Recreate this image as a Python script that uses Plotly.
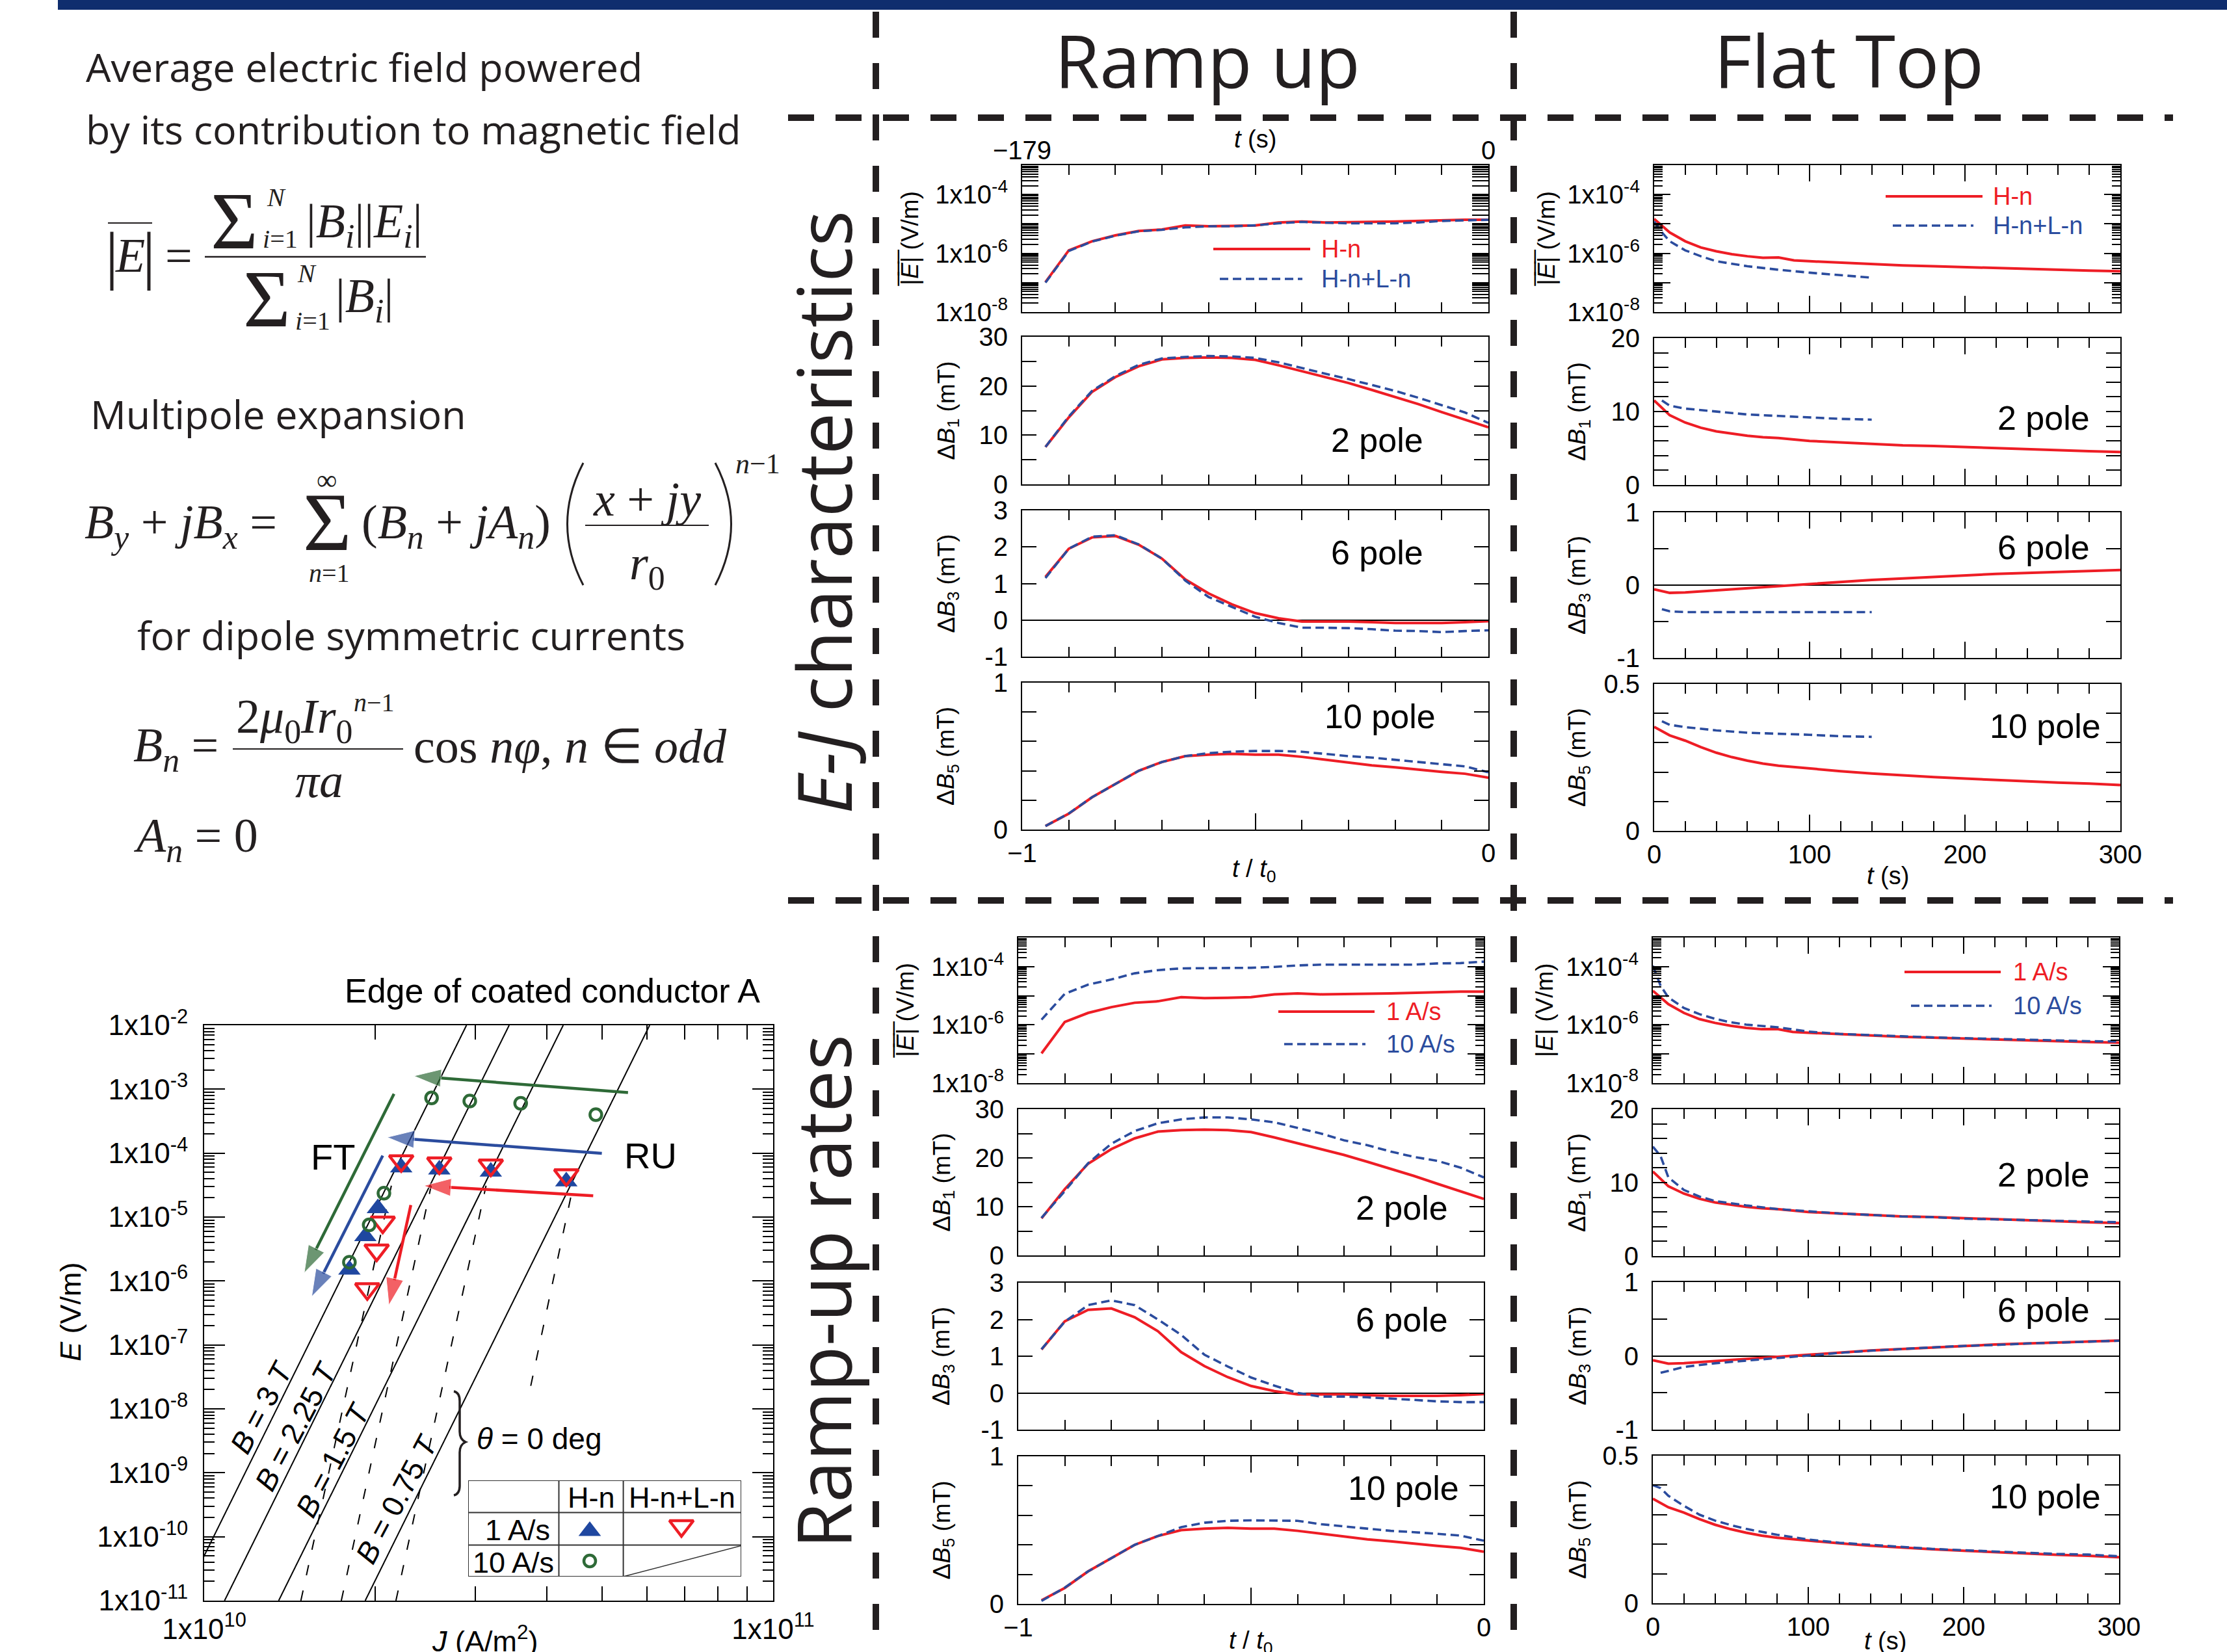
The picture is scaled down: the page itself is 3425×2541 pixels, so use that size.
import plotly.graph_objects as go

W, H = 3425, 2541
SANS = "Open Sans, Noto Sans, sans-serif"
ARIAL = "Liberation Sans, Arial, sans-serif"
SERIF = "Liberation Serif, Times New Roman, serif"
INK = "#231F20"
RED = "#EE1D25"
BLUE = "#2B4C9E"
GREEN = "#2E6A37"
TRI_BLUE = "#1F47A0"
NAVY = "#0F2D6E"

# ---------------- data: ramp up (t / t0) ----------------
ramp_t = [-0.95, -0.90, -0.85, -0.80, -0.75, -0.70, -0.65, -0.60, -0.55, -0.50,
          -0.45, -0.40, -0.35, -0.30, -0.25, -0.20, -0.15, -0.10, -0.05, 0.00]
ramp_E_hn = [1.05e-7, 1.26e-6, 2.57e-6, 4.07e-6, 5.75e-6, 6.46e-6, 8.91e-6, 8.32e-6, 8.51e-6, 8.91e-6,
             1.12e-5, 1.20e-5, 1.12e-5, 1.12e-5, 1.17e-5, 1.20e-5, 1.26e-5, 1.38e-5, 1.38e-5, 1.38e-5]
ramp_E_hnln = [1.0e-7, 1.2e-6, 2.51e-6, 3.98e-6, 5.62e-6, 6.31e-6, 7.59e-6, 8.32e-6, 8.32e-6, 8.91e-6,
               1.05e-5, 1.17e-5, 1.10e-5, 1.05e-5, 1.05e-5, 1.05e-5, 1.12e-5, 1.26e-5, 1.32e-5, 1.38e-5]
ramp_E_10 = [1.51e-6, 1.17e-5, 2.40e-5, 3.63e-5, 5.89e-5, 7.59e-5, 8.71e-5, 8.71e-5, 8.71e-5, 9.12e-5,
             9.77e-5, 1.10e-4, 1.17e-4, 1.17e-4, 1.17e-4, 1.17e-4, 1.17e-4, 1.29e-4, 1.32e-4, 1.48e-4]
ramp_B1_hn = [7.6, 13.6, 18.8, 21.8, 24.0, 25.4, 25.7, 25.8, 25.7, 25.3,
              24.2, 23.0, 21.8, 20.6, 19.2, 17.8, 16.3, 14.7, 13.2, 11.6]
ramp_B1_hnln = [7.6, 13.8, 19.0, 22.0, 24.3, 25.6, 25.9, 26.1, 26.0, 25.7,
                24.8, 23.6, 22.5, 21.4, 20.2, 19.0, 17.6, 16.1, 14.6, 12.5]
ramp_B1_10 = [7.7, 13.2, 18.9, 22.9, 25.5, 27.1, 27.9, 28.3, 28.3, 27.9,
              27.3, 26.1, 25.0, 23.6, 22.6, 21.3, 20.2, 19.4, 18.0, 16.0]
ramp_B3_hn = [1.18, 1.95, 2.26, 2.30, 2.06, 1.68, 1.11, 0.73, 0.43, 0.19,
              0.05, -0.04, -0.04, -0.04, -0.06, -0.08, -0.08, -0.08, -0.06, -0.03]
ramp_B3_hnln = [1.15, 1.95, 2.28, 2.32, 2.07, 1.68, 1.08, 0.63, 0.36, 0.09,
                -0.08, -0.21, -0.21, -0.22, -0.25, -0.29, -0.30, -0.33, -0.30, -0.28]
ramp_B3_10 = [1.19, 1.94, 2.39, 2.52, 2.39, 2.00, 1.58, 1.04, 0.72, 0.42,
              0.20, 0.00, -0.10, -0.10, -0.12, -0.15, -0.19, -0.23, -0.25, -0.25]
ramp_B5_hn = [0.024, 0.108, 0.22, 0.31, 0.40, 0.46, 0.50, 0.51, 0.515, 0.51,
              0.51, 0.495, 0.475, 0.454, 0.437, 0.424, 0.407, 0.393, 0.38, 0.353]
ramp_B5_hnln = [0.024, 0.11, 0.22, 0.31, 0.40, 0.46, 0.50, 0.52, 0.53, 0.535,
                0.535, 0.53, 0.515, 0.50, 0.49, 0.475, 0.46, 0.445, 0.43, 0.39]
ramp_B5_10 = [0.02, 0.11, 0.22, 0.31, 0.40, 0.46, 0.52, 0.55, 0.563, 0.566,
              0.566, 0.563, 0.54, 0.524, 0.508, 0.495, 0.486, 0.476, 0.463, 0.428]

# ---------------- data: flat top (t in s) ----------------
flat_t_hn = [0, 10, 20, 30, 40, 50, 60, 70, 80, 90, 100, 120, 140, 160, 180, 200, 220, 240, 260, 280, 300]
flat_E_hn = [1.48e-5, 5.13e-6, 2.57e-6, 1.58e-6, 1.17e-6, 9.33e-7, 7.94e-7, 7.08e-7, 7.24e-7, 5.75e-7, 5.37e-7,
             4.79e-7, 4.27e-7, 3.89e-7, 3.63e-7, 3.39e-7, 3.09e-7, 2.88e-7, 2.63e-7, 2.57e-7, 2.45e-7]
flat_B1_hn = [11.5, 9.5, 8.5, 7.8, 7.3, 7.0, 6.7, 6.5, 6.4, 6.2, 6.0, 5.8, 5.6, 5.4, 5.3, 5.15, 5.0, 4.9, 4.75, 4.6, 4.5]
flat_B3_hn = [-0.058, -0.106, -0.10, -0.085, -0.07, -0.057, -0.044, -0.03, -0.017, 0.0, 0.017,
              0.044, 0.072, 0.092, 0.113, 0.133, 0.154, 0.167, 0.18, 0.195, 0.208]
flat_B5_hn = [0.354, 0.325, 0.307, 0.285, 0.266, 0.251, 0.239, 0.229, 0.222, 0.217, 0.212,
              0.203, 0.195, 0.188, 0.183, 0.178, 0.173, 0.169, 0.164, 0.161, 0.156]

flat_t_hnln_E = [0, 5, 10, 20, 30, 40, 60, 80, 100, 120, 140]
flat_E_hnln = [1.20e-5, 5.13e-6, 2.57e-6, 1.26e-6, 7.94e-7, 5.37e-7, 3.63e-7, 2.75e-7, 2.19e-7, 1.78e-7, 1.48e-7]
flat_t_hnln_B = [5, 10, 20, 30, 40, 60, 80, 100, 120, 140]
flat_B1_hnln = [11.5, 10.8, 10.4, 10.2, 10.0, 9.6, 9.4, 9.2, 9.0, 8.9]
flat_B3_hnln = [-0.33, -0.36, -0.37, -0.37, -0.37, -0.37, -0.37, -0.37, -0.37, -0.37]
flat_B5_hnln = [0.373, 0.361, 0.353, 0.347, 0.342, 0.334, 0.331, 0.327, 0.322, 0.320]

flat_t_10 = [0, 5, 10, 20, 30, 40, 50, 60, 80, 100, 120, 140, 160, 180, 200, 220, 240, 260, 280, 300]
flat_E_10 = [1.07e-4, 2.19e-5, 8.71e-6, 3.80e-6, 2.34e-6, 1.62e-6, 1.23e-6, 1.02e-6, 8.32e-7, 5.89e-7,
             4.90e-7, 4.37e-7, 4.07e-7, 3.72e-7, 3.47e-7, 3.24e-7, 3.02e-7, 2.88e-7, 2.75e-7, 2.69e-7]
flat_B1_10 = [14.9, 13.6, 10.7, 9.0, 8.1, 7.5, 7.2, 6.9, 6.4, 6.1, 5.8, 5.6, 5.4, 5.3, 5.1, 5.0, 4.9, 4.75, 4.7, 4.6]
flat_t_10_B3 = [5, 20, 40, 60, 80, 100, 120, 140, 160, 180, 200, 220, 240, 260, 280, 300]
flat_B3_10 = [-0.23, -0.15, -0.10, -0.064, -0.026, 0.006, 0.04, 0.07, 0.096, 0.115, 0.135, 0.147, 0.167, 0.18, 0.19, 0.205]
flat_B5_10 = [0.40, 0.39, 0.364, 0.33, 0.30, 0.28, 0.265, 0.252, 0.232, 0.216, 0.205, 0.197, 0.191, 0.184,
              0.179, 0.175, 0.171, 0.167, 0.165, 0.159]

# ---------------- data: E-J characteristics ----------------
ej_J_hn1 = [2.22e10, 2.59e10, 3.19e10, 4.33e10, 2.02e10, 1.92e10, 1.80e10]
ej_E_hn1 = [5.97e-5, 5.53e-5, 5.12e-5, 3.61e-5, 1.37e-5, 5.0e-6, 1.50e-6]
ej_J_hnln1 = [2.22e10, 2.59e10, 3.19e10, 4.33e10, 2.06e10, 2.01e10, 1.935e10]
ej_E_hnln1 = [7.55e-5, 6.98e-5, 6.46e-5, 4.55e-5, 8.28e-6, 3.03e-6, 7.5e-7]
ej_J_hn10 = [2.51e10, 2.93e10, 3.60e10, 4.88e10, 2.07e10, 1.95e10, 1.80e10]
ej_E_hn10 = [7.31e-4, 6.52e-4, 6.03e-4, 3.99e-4, 2.36e-5, 7.55e-6, 1.97e-6]

ej_B_labels = ["3", "2.25", "1.5", "0.75"]
ej_line_J_lo = [9.14e9, 1.086e10, 1.352e10, 1.919e10]
ej_line_J_hi = [2.891e10, 3.436e10, 4.276e10, 6.067e10]
ej_line_E = [1e-11, 1e-2]
ej_dash_J_lo = [1.479e10, 1.742e10, 2.173e10, 3.75e10]
ej_dash_J_hi = [2.133e10, 2.506e10, 3.129e10, 4.453e10]
ej_dash_E_lo = [1e-11, 1e-11, 1e-11, 2.29e-8]
ej_dash_E_hi = [3.09e-5, 3.09e-5, 3.09e-5, 3.09e-5]

arrow_colors = [GREEN, GREEN, BLUE, BLUE, RED, RED]
arrow_J0 = [5.559e10, 2.156e10, 5.0e10, 2.06e10, 4.828e10, 2.308e10]
arrow_E0 = [8.87e-4, 8.47e-4, 9.91e-5, 9.14e-5, 2.15e-5, 1.54e-5]
arrow_J1 = [2.336e10, 1.499e10, 2.097e10, 1.545e10, 2.432e10, 2.112e10]
arrow_E1 = [1.61e-3, 1.34e-6, 1.77e-4, 5.70e-7, 3.09e-5, 4.18e-7]

# ---------------- helpers ----------------
fig = go.Figure()
layout = {}
annotations = []
shapes = []


def px(x):
    return x / W


def py(y):
    return 1 - y / H


def ann(text, x, y, size, family=SANS, xanchor="center", yanchor="middle", angle=0,
        color=INK, xref="paper", yref="paper"):
    if xref == "paper":
        x = px(x)
    if yref == "paper":
        y = py(y)
    annotations.append(dict(text=text, x=x, y=y, xref=xref, yref=yref, xanchor=xanchor,
                            yanchor=yanchor, textangle=angle, showarrow=False,
                            font=dict(family=family, size=size, color=color)))


def seg(x0, y0, x1, y1, color=INK, width=2, dash="solid"):
    shapes.append(dict(type="line", xref="paper", yref="paper", x0=px(x0), y0=py(y0),
                       x1=px(x1), y1=py(y1), line=dict(color=color, width=width, dash=dash)))


def path(cmds, color=INK, width=3):
    s = ""
    for c, pts in cmds:
        s += c
        coords = []
        for i in range(0, len(pts), 2):
            coords.append(f"{px(pts[i]):.6f},{py(pts[i + 1]):.6f}")
        s += " ".join(coords) + " "
    shapes.append(dict(type="path", xref="paper", yref="paper", path=s.strip(),
                       line=dict(color=color, width=width)))


TICKFONT = dict(family=ARIAL, size=40, color="black")
AX_BASE = dict(showline=True, linecolor="black", linewidth=2, mirror="allticks", ticks="inside",
               tickcolor="black", tickwidth=2, showgrid=False, zeroline=False, automargin=False,
               tickfont=TICKFONT)
axn = [0]


def new_axes(xbox, ybox, xcfg, ycfg):
    axn[0] += 1
    n = axn[0]
    sfx = "" if n == 1 else str(n)
    xc = dict(AX_BASE)
    xc.update(xcfg)
    xc.update(domain=[xbox[0] / W, xbox[1] / W], anchor="y" + sfx)
    yc = dict(AX_BASE)
    yc.update(ycfg)
    yc.update(domain=[1 - ybox[1] / H, 1 - ybox[0] / H], anchor="x" + sfx)
    layout["xaxis" + sfx] = xc
    layout["yaxis" + sfx] = yc
    return "x" + sfx, "y" + sfx


def trace(xa, ya, x, y, kind):
    if kind == "red":
        line = dict(color=RED, width=4)
    else:
        line = dict(color=BLUE, width=3.6, dash="13px,7px")
    fig.add_trace(go.Scatter(x=x, y=y, xaxis=xa, yaxis=ya, mode="lines", line=line,
                             hoverinfo="skip", showlegend=False))


decades = [1e-8, 1e-7, 1e-6, 1e-5, 1e-4, 1e-3]
E_minor = [k * 10.0 ** e for e in range(-8, -3) for k in range(2, 10)]
MINOR = dict(ticks="inside", tickcolor="black", tickwidth=2)


def y_E():
    return dict(type="log", range=[-8, -3], tickvals=decades,
                ticktext=["1x10<sup>-8</sup>", "", "1x10<sup>-6</sup>", "", "1x10<sup>-4</sup>", ""],
                ticklen=25, minor=dict(tickvals=E_minor, ticklen=13, **MINOR), ticklabelstandoff=12)


def y_lin(rng, vals, texts, minor_dtick=None):
    d = dict(range=rng, tickvals=vals, ticktext=texts, ticklen=22, ticklabelstandoff=12)
    if minor_dtick:
        d["minor"] = dict(dtick=minor_dtick, ticklen=22, **MINOR)
    return d


def x_ramp(labels):
    return dict(range=[-1, 0], tickvals=[-1, -0.5, 0], ticktext=["\u22121", "", "0"],
                showticklabels=labels, ticklen=25, minor=dict(dtick=0.1, ticklen=15, **MINOR))


def x_flat(labels):
    return dict(range=[0, 300], tickvals=[0, 100, 200, 300], ticktext=["0", "100", "200", "300"],
                showticklabels=labels, ticklen=25, minor=dict(dtick=20, ticklen=15, **MINOR))


ramp_y = [y_E(),
          y_lin([0, 30], [0, 10, 20, 30], ["0", "10", "20", "30"], 5),
          dict(y_lin([-1, 3], [-1, 0, 1, 2, 3], ["-1", "0", "1", "2", "3"]),
               zeroline=True, zerolinecolor="black", zerolinewidth=1.5),
          y_lin([0, 1], [0, 0.2, 0.4, 0.6, 0.8, 1], ["0", "", "", "", "", "1"])]
flat_y = [y_E(),
          y_lin([0, 20], [0, 10, 20], ["0", "10", "20"], 2),
          dict(y_lin([-1, 1], [-1, 0, 1], ["-1", "0", "1"], 0.5),
               zeroline=True, zerolinecolor="black", zerolinewidth=1.5),
          y_lin([0, 0.5], [0, 0.1, 0.2, 0.3, 0.4, 0.5], ["0", "", "", "", "", "0.5"])]

# ---------------- panel geometry (px) ----------------
col_ramp_top = (1572, 2289)
col_flat_top = (2544, 3261)
col_ramp_bot = (1566, 2282)
col_flat_bot = (2542, 3259)
rows_ramp_top = [(254, 480), (518, 745), (785, 1010), (1050, 1276)]
rows_flat_top = [(254, 480), (520, 746), (788, 1012), (1052, 1278)]
rows_ramp_bot = [(1442, 1666), (1706, 1931), (1973, 2199), (2240, 2467)]
rows_flat_bot = [(1442, 1666), (1706, 1932), (1972, 2199), (2239, 2466)]

ramp_top_series = [(ramp_E_hn, ramp_E_hnln), (ramp_B1_hn, ramp_B1_hnln),
                   (ramp_B3_hn, ramp_B3_hnln), (ramp_B5_hn, ramp_B5_hnln)]
for i, (r, b) in enumerate(ramp_top_series):
    xa, ya = new_axes(col_ramp_top, rows_ramp_top[i], x_ramp(i == 3), ramp_y[i])
    trace(xa, ya, ramp_t, r, "red")
    trace(xa, ya, ramp_t, b, "blue")

flat_top_series = [(flat_t_hn, flat_E_hn, flat_t_hnln_E, flat_E_hnln),
                   (flat_t_hn, flat_B1_hn, flat_t_hnln_B, flat_B1_hnln),
                   (flat_t_hn, flat_B3_hn, flat_t_hnln_B, flat_B3_hnln),
                   (flat_t_hn, flat_B5_hn, flat_t_hnln_B, flat_B5_hnln)]
for i, (tr, r, tb, b) in enumerate(flat_top_series):
    xa, ya = new_axes(col_flat_top, rows_flat_top[i], x_flat(i == 3), flat_y[i])
    trace(xa, ya, tr, r, "red")
    trace(xa, ya, tb, b, "blue")

ramp_bot_series = [(ramp_E_hn, ramp_E_10), (ramp_B1_hn, ramp_B1_10),
                   (ramp_B3_hn, ramp_B3_10), (ramp_B5_hn, ramp_B5_10)]
for i, (r, b) in enumerate(ramp_bot_series):
    xa, ya = new_axes(col_ramp_bot, rows_ramp_bot[i], x_ramp(i == 3), ramp_y[i])
    trace(xa, ya, ramp_t, r, "red")
    trace(xa, ya, ramp_t, b, "blue")

flat_bot_series = [(flat_t_hn, flat_E_hn, flat_t_10, flat_E_10),
                   (flat_t_hn, flat_B1_hn, flat_t_10, flat_B1_10),
                   (flat_t_hn, flat_B3_hn, flat_t_10_B3, flat_B3_10),
                   (flat_t_hn, flat_B5_hn, flat_t_10, flat_B5_10)]
for i, (tr, r, tb, b) in enumerate(flat_bot_series):
    xa, ya = new_axes(col_flat_bot, rows_flat_bot[i], x_flat(i == 3), flat_y[i])
    trace(xa, ya, tr, r, "red")
    trace(xa, ya, tb, b, "blue")

# ---------------- E-J plot ----------------
EJ_TICKFONT = dict(family=ARIAL, size=44, color="black")
ej_x_ticks = [1e10, 2e10, 3e10, 4e10, 5e10, 6e10, 7e10, 8e10, 9e10, 1e11]
ej_y_ticks = [10.0 ** e for e in range(-11, -1)]
ej_y_minor = [k * 10.0 ** e for e in range(-11, -2) for k in range(2, 10)]
ej_x_cfg = dict(type="log", range=[10, 11], tickvals=ej_x_ticks,
                ticktext=["1x10<sup>10</sup>"] + [""] * 8 + ["1x10<sup>11</sup>"],
                ticklen=22, tickfont=EJ_TICKFONT, ticklabelstandoff=4)
ej_y_cfg = dict(type="log", range=[-11, -2], tickvals=ej_y_ticks,
                ticktext=[f"1x10<sup>{e}</sup>" for e in range(-11, -1)],
                ticklen=32, minor=dict(tickvals=ej_y_minor, ticklen=16, **MINOR),
                tickfont=EJ_TICKFONT, ticklabelstandoff=14)
ejx, ejy = new_axes((314, 1189), (1577, 2462), ej_x_cfg, ej_y_cfg)

for i in range(4):
    fig.add_trace(go.Scatter(x=[ej_line_J_lo[i], ej_line_J_hi[i]], y=ej_line_E, xaxis=ejx, yaxis=ejy,
                             mode="lines", line=dict(color="black", width=2), hoverinfo="skip",
                             showlegend=False))
    fig.add_trace(go.Scatter(x=[ej_dash_J_lo[i], ej_dash_J_hi[i]], y=[ej_dash_E_lo[i], ej_dash_E_hi[i]],
                             xaxis=ejx, yaxis=ejy, mode="lines",
                             line=dict(color="black", width=2, dash="16px,24px"), hoverinfo="skip",
                             showlegend=False))

for i in range(6):
    fig.add_trace(go.Scatter(x=[arrow_J0[i], arrow_J1[i]], y=[arrow_E0[i], arrow_E1[i]], xaxis=ejx, yaxis=ejy,
                             mode="lines+markers", line=dict(color=arrow_colors[i], width=4.5),
                             marker=dict(symbol="arrow", angleref="previous", size=[0, 44],
                                         color=arrow_colors[i]),
                             hoverinfo="skip", showlegend=False))

fig.add_trace(go.Scatter(x=ej_J_hn1, y=ej_E_hn1, xaxis=ejx, yaxis=ejy, mode="markers",
                         marker=dict(symbol="triangle-up", size=30, color=TRI_BLUE), hoverinfo="skip",
                         showlegend=False))
fig.add_trace(go.Scatter(x=ej_J_hnln1, y=ej_E_hnln1, xaxis=ejx, yaxis=ejy, mode="markers",
                         marker=dict(symbol="triangle-down-open", size=32, color=RED, line=dict(width=4.5)),
                         hoverinfo="skip", showlegend=False))
fig.add_trace(go.Scatter(x=ej_J_hn10, y=ej_E_hn10, xaxis=ejx, yaxis=ejy, mode="markers",
                         marker=dict(symbol="circle-open", size=18, color=GREEN, line=dict(width=4.5)),
                         hoverinfo="skip", showlegend=False))

# legend table axes (pixel units inside the table box)
tbx, tby = new_axes((720, 1140), (2277, 2425),
                    dict(range=[0, 420], showline=False, ticks="", showticklabels=False, mirror=False),
                    dict(range=[148, 0], showline=False, ticks="", showticklabels=False, mirror=False))
tb_cols = [0, 139.5, 238.6, 420]
tb_rows = [0, 49.6, 99.5, 148]
for xv in tb_cols:
    shapes.append(dict(type="line", xref=tbx, yref=tby, x0=xv, x1=xv, y0=0, y1=148,
                       line=dict(color="#333333", width=2)))
for yv in tb_rows:
    shapes.append(dict(type="line", xref=tbx, yref=tby, x0=0, x1=420, y0=yv, y1=yv,
                       line=dict(color="#333333", width=2)))
shapes.append(dict(type="line", xref=tbx, yref=tby, x0=238.6, x1=420, y0=148, y1=100.5,
                   line=dict(color="#333333", width=1.5)))
fig.add_trace(go.Scatter(x=[187], y=[78], xaxis=tbx, yaxis=tby, mode="markers",
                         marker=dict(symbol="triangle-up", size=30, color=TRI_BLUE), hoverinfo="skip",
                         showlegend=False))
fig.add_trace(go.Scatter(x=[328], y=[70], xaxis=tbx, yaxis=tby, mode="markers",
                         marker=dict(symbol="triangle-down-open", size=32, color=RED, line=dict(width=4.5)),
                         hoverinfo="skip", showlegend=False))
fig.add_trace(go.Scatter(x=[187], y=[124], xaxis=tbx, yaxis=tby, mode="markers",
                         marker=dict(symbol="circle-open", size=18, color=GREEN, line=dict(width=4.5)),
                         hoverinfo="skip", showlegend=False))
for text, xv, yv, xa_ in [("H-n", 189, 26, "center"), ("H-n+L-n", 329, 26, "center"),
                          ("1 A/s", 128, 76, "right"), ("10 A/s", 134, 126, "right")]:
    annotations.append(dict(text=text, x=xv, y=yv, xref=tbx, yref=tby, xanchor=xa_, yanchor="middle",
                            showarrow=False, font=dict(family=ARIAL, size=45, color="black")))

# top time axis on ramp-up E panel
layout["xaxis40"] = dict(overlaying="x", side="top", anchor="y", range=[-179, 0], tickvals=[-179, 0],
                         ticktext=["\u2212179", "0"], showline=False, ticks="", showgrid=False,
                         zeroline=False, automargin=False, tickfont=TICKFONT, ticklabelstandoff=0)
fig.add_trace(go.Scatter(x=[-179, 0], y=[1e-8, 1e-8], xaxis="x40", yaxis="y", mode="markers",
                         marker=dict(opacity=0, size=1), hoverinfo="skip", showlegend=False))

# ---------------- decoration: bars & separators ----------------
shapes.append(dict(type="rect", xref="paper", yref="paper", x0=px(89), x1=1, y0=py(15), y1=1,
                   fillcolor=NAVY, line=dict(width=0)))
seg(1347, 18, 1347, 2541, INK, 10, "40px,39px")
seg(2328, 18, 2328, 2541, INK, 10, "40px,39px")
seg(1212, 181, 3342, 181, INK, 10, "40px,33px")
seg(1212, 1385, 3342, 1385, INK, 10, "40px,33px")

ann("Ramp up", 1857, 92, 112)
ann("Flat Top", 2843, 92, 112)
ann("<i>E-J</i> characteristics", 1265, 788, 115, angle=-90)
ann("Ramp-up rates", 1265, 1987, 115, angle=-90)

# ---------------- left text & equations ----------------
ann("Average electric field powered", 130, 103, 61, xanchor="left")
ann("by its contribution to magnetic field", 130, 198, 61, xanchor="left")
ann("Multipole expansion", 137, 636, 61, xanchor="left")
ann("for dipole symmetric currents", 209, 976, 61, xanchor="left")

# |E| = sum|B||E| / sum|B|
ann("|", 172, 392, 100, SERIF)
ann("<i>E</i>", 200, 393, 74, SERIF)
ann("|", 229, 392, 100, SERIF)
seg(166, 343, 234, 343, INK, 2)
ann("=", 275, 393, 74, SERIF)
seg(315, 395, 655, 395, INK, 2.5)
ann("\u03a3", 360, 340, 125, SERIF)
ann("<i>N</i>", 425, 303, 40, SERIF)
ann("<i>i</i>=1", 431, 368, 40, SERIF)
ann("|<i>B</i><sub><i>i</i></sub>||<i>E</i><sub><i>i</i></sub>|", 560, 345, 74, SERIF)
ann("\u03a3", 410, 460, 125, SERIF)
ann("<i>N</i>", 472, 421, 40, SERIF)
ann("<i>i</i>=1", 481, 493, 40, SERIF)
ann("|<i>B</i><sub><i>i</i></sub>|", 560, 460, 74, SERIF)

# multipole expansion
ann("<i>B</i><sub><i>y</i></sub> + <i>jB</i><sub><i>x</i></sub> =", 128, 808, 74, SERIF, xanchor="left")
ann("\u03a3", 503, 803, 128, SERIF)
ann("\u221e", 502, 738, 44, SERIF)
ann("<i>n</i>=1", 506, 882, 40, SERIF)
ann("(<i>B</i><sub><i>n</i></sub> + <i>jA</i><sub><i>n</i></sub>)", 554, 808, 74, SERIF, xanchor="left")
path([("M", [897, 712]), ("Q", [848, 806, 897, 900])], INK, 3)
path([("M", [1100, 712]), ("Q", [1149, 806, 1100, 900])], INK, 3)
ann("<i>x</i> + <i>jy</i>", 995, 768, 74, SERIF)
seg(900, 808, 1090, 808, INK, 2)
ann("<i>r</i><sub>0</sub>", 995, 871, 74, SERIF)
ann("<i>n</i>\u22121", 1165, 714, 44, SERIF)

# B_n
ann("<i>B</i><sub><i>n</i></sub> =", 203, 1152, 74, SERIF, xanchor="left")
ann("2<i>\u03bc</i><sub>0</sub><i>Ir</i><sub>0</sub>", 361, 1107, 74, SERIF, xanchor="left")
ann("<i>n</i>\u22121", 575, 1080, 40, SERIF)
seg(358, 1152, 620, 1152, INK, 2)
ann("<i>\u03c0a</i>", 491, 1201, 74, SERIF)
ann("cos <i>n\u03c6</i>, <i>n</i> \u2208 <i>odd</i>", 634, 1148, 74, SERIF, xanchor="left")
ann("<i>A</i><sub><i>n</i></sub> = 0", 203, 1290, 74, SERIF, xanchor="left")

# ---------------- E-J plot texts ----------------
ann("Edge of coated conductor A", 1171, 1524, 52, ARIAL, xanchor="right", color="black")
ann("<i>E</i> (V/m)", 108, 2018, 45, ARIAL, angle=-90, color="black")
ann("<i>J</i> (A/m<sup>2</sup>)", 746, 2521, 45, ARIAL, color="black")
ann("FT", 512, 1779, 56, ARIAL, color="black")
ann("RU", 1001, 1777, 56, ARIAL, color="black")
b_pos = [(402, 2165), (455, 2194), (512, 2246), (610, 2306)]
for lab, (bx, by) in zip(ej_B_labels, b_pos):
    ann(f"<i>B</i> = {lab} <i>T</i>", bx, by, 46, ARIAL, angle=-62, color="black")
ann("<i>\u03b8</i> = 0 deg", 829, 2213, 46, ARIAL, color="black")
path([("M", [698, 2140]), ("Q", [707, 2142, 707, 2155]), ("L", [707, 2202]),
      ("Q", [707, 2214, 716, 2218]), ("Q", [707, 2222, 707, 2234]), ("L", [707, 2285]),
      ("Q", [707, 2298, 698, 2300])], INK, 3.5)

# ---------------- panel texts ----------------
OVL = "|\u0305<i>E\u0305</i>|\u0305 (V/m)"
PLAIN_E = "|<i>E</i>| (V/m)"
B_TITLES = ["\u0394<i>B</i><sub>1</sub> (mT)", "\u0394<i>B</i><sub>3</sub> (mT)", "\u0394<i>B</i><sub>5</sub> (mT)"]


def panel_titles(e_x, b_x, rows, e_text):
    ann(e_text, e_x, (rows[0][0] + rows[0][1]) / 2, 37, ARIAL, angle=-90, color="black")
    for k in range(3):
        r = rows[k + 1]
        ann(B_TITLES[k], b_x, (r[0] + r[1]) / 2, 37, ARIAL, angle=-90, color="black")


panel_titles(1400, 1457, rows_ramp_top, OVL)
panel_titles(2379, 2428, rows_flat_top, OVL)
panel_titles(1392, 1450, rows_ramp_bot, OVL)
panel_titles(2375, 2428, rows_flat_bot, PLAIN_E)

ann("<i>t</i> (s)", 1931, 214, 38, ARIAL, color="black")
ann("<i>t</i> / <i>t</i><sub>0</sub>", 1929, 1339, 38, ARIAL, color="black")
ann("<i>t</i> (s)", 2903, 1347, 38, ARIAL, color="black")
ann("<i>t</i> / <i>t</i><sub>0</sub>", 1924, 2526, 38, ARIAL, color="black")
ann("<i>t</i> (s)", 2899, 2524, 38, ARIAL, color="black")

for (x2, y2, y6, y10, x10) in [(2118, 677, 850, 1102, 2122), (3143, 643, 842, 1117, 3145),
                               (2156, 1858, 2030, 2289, 2158), (3143, 1807, 2015, 2302, 3145)]:
    ann("2 pole", x2, y2, 52, ARIAL, color="black")
    ann("6 pole", x2, y6, 52, ARIAL, color="black")
    ann("10 pole", x10, y10, 52, ARIAL, color="black")


def legend(xr0, xr1, yr, xb0, xb1, yb, xt, t1, t2):
    seg(xr0, yr, xr1, yr, RED, 4)
    seg(xb0, yb, xb1, yb, BLUE, 3.6, "13px,7px")
    ann(t1, xt, yr, 38, ARIAL, xanchor="left", color=RED)
    ann(t2, xt, yb, 38, ARIAL, xanchor="left", color=BLUE)


legend(1866, 2015, 383, 1876, 2003, 429, 2030, "H-n", "H-n+L-n")
legend(2900, 3049, 302, 2911, 3035, 347, 3063, "H-n", "H-n+L-n")
legend(1966, 2114, 1556, 1975, 2100, 1606, 2130, "1 A/s", "10 A/s")
legend(2929, 3077, 1495, 2939, 3063, 1547, 3094, "1 A/s", "10 A/s")

fig.update_layout(**layout)
fig.update_layout(template="none", width=W, height=H, margin=dict(l=0, r=0, t=0, b=0, pad=0),
                  autosize=False, paper_bgcolor="white", plot_bgcolor="rgba(0,0,0,0)", showlegend=False,
                  font=dict(family=SANS, color=INK), annotations=annotations, shapes=shapes,
                  hovermode=False)
fig.write_html("out.html")
